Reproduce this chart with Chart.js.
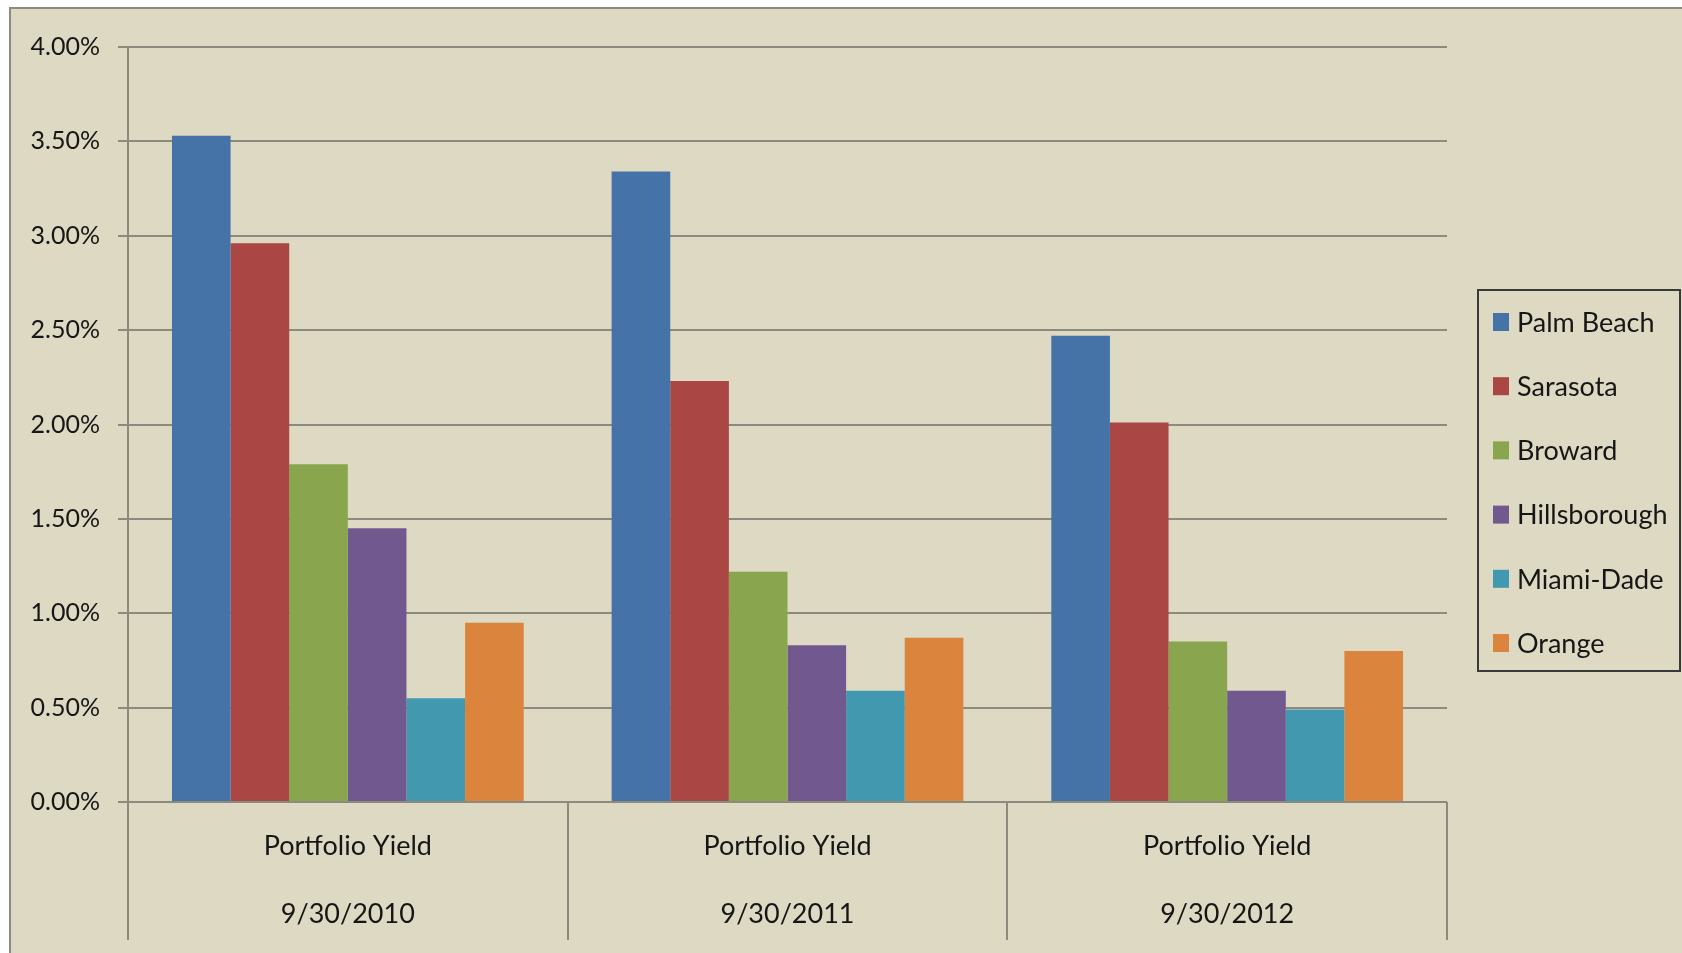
<!DOCTYPE html>
<html>
<head>
<meta charset="utf-8">
<script src="https://cdn.jsdelivr.net/npm/chart.js@4.4.0/dist/chart.umd.min.js"></script>
<style>
  html, body { margin: 0; padding: 0; background: #ffffff; }
  #wrap { position: relative; width: 1682px; height: 953px; }
  canvas { display: block; }
</style>
</head>
<body>
<div id="wrap"><canvas id="c" width="1682" height="953"></canvas></div>
<script>
// ---- Data (values in percent) ----
const categories = [
  ["Portfolio Yield", "9/30/2010"],
  ["Portfolio Yield", "9/30/2011"],
  ["Portfolio Yield", "9/30/2012"]
];
const seriesNames = ["Palm Beach", "Sarasota", "Broward", "Hillsborough", "Miami-Dade", "Orange"];
const palmBeach    = [3.53, 3.34, 2.47];
const sarasota     = [2.96, 2.23, 2.01];
const broward      = [1.79, 1.22, 0.85];
const hillsborough = [1.45, 0.83, 0.59];
const miamiDade    = [0.55, 0.59, 0.49];
const orange       = [0.95, 0.87, 0.80];
const yTickMin = 0, yTickMax = 4, yTickStep = 0.5;

const seriesValues = [palmBeach, sarasota, broward, hillsborough, miamiDade, orange];
const seriesColors = ["#4572A7", "#AA4643", "#89A54E", "#71588F", "#4198AF", "#DB843D"];

const FONT = "Lato, 'Open Sans', sans-serif";
const GRID = "#8c897d";
const BG = "#DDD9C3";
const TEXT = "#161616";

const frame = {
  id: 'frame',
  beforeDraw(chart) {
    const ctx = chart.ctx;
    ctx.save();
    ctx.fillStyle = '#ffffff';
    ctx.fillRect(0, 0, chart.width, chart.height);
    ctx.fillStyle = BG;
    ctx.fillRect(10, 8, chart.width - 10, chart.height - 8);
    ctx.strokeStyle = '#8a8a86';
    ctx.lineWidth = 2;
    ctx.strokeRect(10, 8, chart.width - 10 + 4, chart.height - 8 + 4);
    ctx.restore();
  }
};

const boxLegend = {
  id: 'boxLegend',
  afterDraw(chart) {
    const ctx = chart.ctx;
    const ds = chart.data.datasets;
    const x0 = 1478, y0 = 290, w = 202, h = 381;
    ctx.save();
    ctx.strokeStyle = '#3a3a38';
    ctx.lineWidth = 2;
    ctx.strokeRect(x0, y0, w, h);
    ctx.font = "27px " + FONT;
    ctx.textBaseline = 'middle';
    ctx.textAlign = 'left';
    ds.forEach((d, i) => {
      const cy = 322 + i * 64.2;
      ctx.fillStyle = d.backgroundColor;
      ctx.fillRect(x0 + 15, cy - 9, 16, 18);
      ctx.fillStyle = TEXT;
      ctx.fillText(d.label, x0 + 39, cy + 1);
    });
    ctx.restore();
  }
};

const datasets = seriesNames.map((name, i) => ({
  label: name,
  data: seriesValues[i],
  backgroundColor: seriesColors[i],
  borderWidth: 0,
  categoryPercentage: 0.8,
  barPercentage: 1.0
}));

new Chart(document.getElementById('c'), {
  type: 'bar',
  data: { labels: categories, datasets },
  options: {
    responsive: false,
    animation: false,
    layout: { padding: { left: 10, right: 235, top: 47, bottom: 0 } },
    plugins: {
      legend: { display: false },
      tooltip: { enabled: false }
    },
    scales: {
      x: {
        offset: true,
        grid: {
          offset: true,
          drawOnChartArea: false,
          drawTicks: true,
          tickLength: 138,
          color: GRID,
          lineWidth: 2
        },
        border: { display: false },
        ticks: {
          color: TEXT,
          font: { family: FONT, size: 27, lineHeight: 68 / 27 },
          padding: -128,
          maxRotation: 0,
          autoSkip: false
        },
        afterFit(s) { s.height = 151; }
      },
      y: {
        min: yTickMin,
        max: yTickMax,
        grid: {
          color: GRID,
          lineWidth: 2,
          drawTicks: true,
          tickLength: 10
        },
        border: { display: true, color: GRID, width: 2 },
        ticks: {
          stepSize: yTickStep,
          color: TEXT,
          font: { family: FONT, size: 25 },
          padding: 18,
          callback: v => v.toFixed(2) + '%'
        },
        afterFit(s) { s.width = 118; }
      }
    }
  },
  plugins: [frame, boxLegend]
});
</script>
</body>
</html>
